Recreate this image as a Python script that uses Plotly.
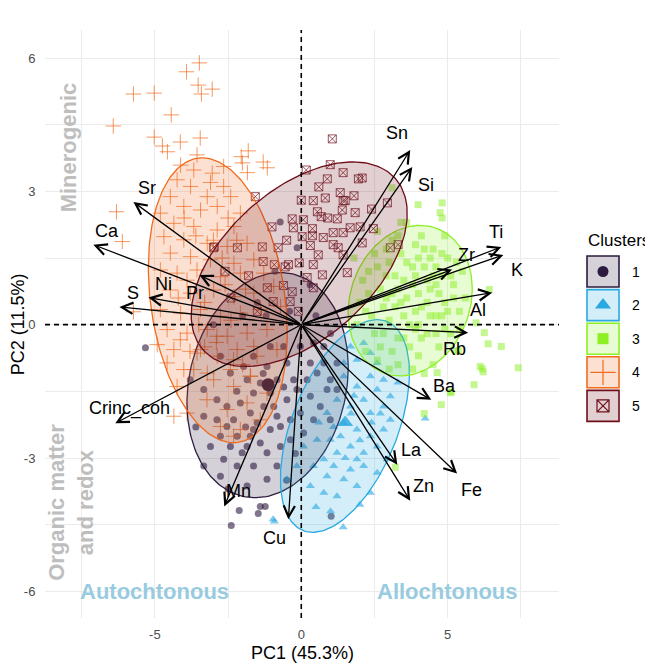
import numpy as np
import plotly.graph_objects as go

##################
### data (PC scores)
c1_points = [(-2.88, -2.14), (-2.54, -2.29), (-2.19, -2.51), (-1.85, -2.74), (-1.51, -2.21), (-1.06, -2.36),
             (-0.71, -2.29), (-0.94, -1.84), (-0.49, -1.69), (-0.15, -1.46), (0.20, -1.24), (0.54, -1.09),
             (0.77, -0.86), (0.88, -1.46), (0.99, -1.24), (1.22, -0.86), (0.31, -1.61), (-0.37, -2.14),
             (-0.03, -1.99), (-0.71, -2.74), (-1.17, -2.88), (-1.63, -3.18), (-2.19, -3.18), (-2.65, -3.03),
             (-3.10, -2.74), (-3.33, -3.18), (-2.76, -3.41), (-2.02, -2.88), (-1.17, -3.48), (-1.85, -3.63),
             (-0.83, -3.18), (-1.40, -2.66), (-2.42, -2.74), (-2.88, -1.69), (-3.33, -1.46), (-3.79, -1.24),
             (-2.08, -1.76), (-1.63, -1.54), (-1.28, -1.84), (-1.74, -1.99), (-2.31, -2.14), (-0.83, -1.24),
             (-1.17, -0.94), (-0.49, -0.86), (-0.03, -0.49), (0.42, -0.41), (0.77, -0.49), (-0.60, -0.49),
             (-1.06, -0.49), (-1.63, -0.71), (0.08, -2.44), (0.42, -2.14), (0.65, -1.84), (0.99, -2.14),
             (-0.37, -2.59), (-1.63, -2.36), (-0.83, -2.06), (-2.54, -1.84), (-1.85, -1.24), (-1.40, -1.31),
             (1.22, -1.46), (0.31, -0.86), (-1.97, -0.94), (-2.42, -1.09), (-2.76, -0.71), (-1.06, -1.54),
             (-0.26, -1.24), (-1.74, -2.51), (-2.76, -2.51), (-3.33, -2.06),
             (-5.32, -0.52), (-2.12, -4.18), (-2.39, -4.52), (-1.47, -4.25), (-1.40, -4.09), (-1.23, -4.09),
             (1.02, -4.31), (-0.72, 2.31), (-0.14, 1.73), (-0.90, 1.20), (0.30, 0.90), (-2.00, 0.20),
             (-3.00, 0.00), (-1.50, 0.50), (-1.30, -1.10), (-0.60, -1.40), (-2.20, -1.50), (-1.90, -2.30),
             (-0.20, -2.90), (-0.50, -3.50), (-2.50, -3.70), (-3.60, -2.30), (-0.40, 0.30), (0.50, 0.20),
             (1.00, -0.20), (-1.20, 0.20)]

c2_points = [(1.45, -1.16), (1.90, -1.39), (2.36, -1.16), (2.59, -1.46), (2.13, -1.69), (1.68, -1.84),
             (2.36, -1.99), (2.81, -1.84), (1.45, -2.21), (1.90, -2.36), (2.36, -2.51), (2.81, -2.36),
             (2.59, -2.74), (2.13, -2.88), (1.68, -2.74), (1.22, -2.88), (0.77, -3.03), (0.42, -3.18),
             (0.88, -3.41), (1.45, -3.48), (1.90, -3.63), (2.36, -3.78), (2.59, -3.33), (2.93, -3.03),
             (0.99, -2.59), (0.54, -2.59), (0.08, -2.74), (-0.15, -3.18), (-0.49, -3.48), (0.31, -3.63),
             (0.77, -3.78), (1.22, -3.86), (1.68, -3.26), (2.13, -3.18), (2.81, -1.24), (3.04, -1.61),
             (3.04, -2.14), (1.45, -0.86), (1.90, -0.79), (2.36, -0.64), (2.13, -0.41), (1.68, -0.49),
             (2.59, -0.86), (1.22, -1.69), (0.88, -1.99), (1.34, -2.51), (1.90, -3.03), (1.11, -3.18),
             (-0.92, -4.43), (1.43, -4.56), (4.23, -2.11), (1.00, -4.20), (0.50, -4.10), (2.00, -4.05),
             (-0.96, -4.38), (1.70, -2.00), (2.00, -2.60), (1.50, -3.00), (2.40, -2.20), (1.10, -2.30),
             (2.70, -2.00), (3.30, -1.30), (0.60, -2.20), (1.80, -1.60)]

c3_points = [(2.0, 0.5), (2.3, 1.2), (2.5, -0.2), (2.7, 0.8), (2.9, 1.7), (3.0, 0.1), (3.1, -0.6), (3.2, 1.1),
             (3.3, 2.0), (3.4, 0.5), (3.5, -0.3), (3.6, 1.4), (3.7, 0.0), (3.8, 0.9), (3.9, 1.8), (4.0, -0.7),
             (4.1, 0.4), (4.2, 1.3), (4.3, -0.2), (4.4, 0.8), (4.5, 1.7), (4.6, 0.2), (4.7, -0.5), (4.8, 1.1),
             (4.9, 0.5), (5.0, 1.5), (5.1, -0.2), (5.2, 0.9), (5.4, 0.3), (5.5, 1.2), (1.8, 1.5), (2.2, -0.6),
             (2.6, 2.1), (3.0, -1.0), (3.3, -0.9), (3.6, 2.3), (4.1, 2.0), (4.5, -0.9), (5.3, -0.6), (5.6, 0.6),
             (2.4, 0.2), (3.9, 0.3), (4.3, 1.0), (3.5, 1.0), (2.8, -0.2), (4.6, 1.3), (3.2, 0.4), (4.0, 1.5),
             (2.1, 1.0), (2.5, 1.6), (2.8, 0.4), (3.0, 1.4), (3.3, 0.8), (3.4, 1.6), (3.6, 0.6), (3.7, -0.5),
             (3.8, 1.3), (4.0, 0.7), (4.1, -0.3), (4.2, 1.7), (4.4, 0.2), (4.5, 1.1), (4.7, 0.7), (4.8, 1.6),
             (4.9, -0.1), (5.1, 1.1), (5.3, 1.4), (5.4, -0.1), (2.3, 0.7), (2.7, -0.5), (3.1, 0.7), (3.9, -0.1),
             (4.3, 0.5), (4.6, -0.2), (5.0, 0.3), (3.4, 2.3), (2.9, 1.1), (4.9, 2.0), (1.9, 0.0), (2.6, -0.8),
             (3.8, -1.0), (4.2, -1.1), (2.2, 0.3), (2.6, 1.3), (3.1, 1.9), (3.5, 0.2), (3.9, 1.1), (4.4, 1.5),
             (4.8, 0.2), (5.2, 0.6), (3.3, -0.3), (4.0, 0.0), (2.9, 0.6), (4.6, 0.9),
             (3.10, 3.08), (3.99, 2.70), (4.81, 2.74), (4.74, 2.52), (4.81, 2.40), (6.42, 0.79), (6.25, -0.18),
             (6.38, -0.43), (6.83, -0.49), (5.36, -0.58), (6.18, -0.99), (7.41, -0.97), (5.90, -1.35),
             (4.64, -1.08), (4.20, -2.00), (5.09, -1.53), (6.11, -0.94), (5.12, -1.51), (4.78, -1.80),
             (3.21, -3.21), (5.97, 0.04), (6.21, -1.06)]

c4_points = [(-5.22, 7.19), (-4.85, 6.99), (-5.67, 6.79), (-5.12, 6.76), (-3.48, 5.89), (-3.92, 5.69),
             (-3.52, 5.39), (-3.04, 5.30), (-3.41, 5.19), (-5.73, 5.19), (-5.02, 5.21), (-4.44, 4.72),
             (-6.42, 4.47), (-5.02, 4.22), (-4.13, 4.11), (-3.45, 4.20), (-4.74, 4.02), (-4.57, 3.89),
             (-1.81, 3.91), (-2.05, 3.78), (-1.30, 3.66), (-2.01, 3.64), (-1.16, 3.53), (-1.84, 3.42),
             (-6.31, 2.54), (-6.11, 1.87), (-5.73, 0.29),
             (-3.56, 3.82), (-4.12, 3.59), (-3.67, 3.48), (-2.65, 3.56), (-3.04, 3.41), (-4.24, 3.26),
             (-3.78, 3.11), (-2.65, 3.11), (-4.47, 2.88), (-3.21, 2.88), (-2.41, 2.88), (-4.01, 2.66),
             (-3.44, 2.58), (-2.87, 2.66), (-4.81, 2.51), (-2.08, 2.51), (-4.35, 2.28), (-3.67, 2.21),
             (-2.87, 2.13), (-2.30, 2.21), (-4.69, 1.98), (-4.01, 1.91), (-3.21, 1.83), (-2.53, 1.76),
             (-1.85, 1.83), (-4.47, 1.61), (-3.78, 1.53), (-3.10, 1.46), (-2.30, 1.38), (-1.62, 1.46),
             (-4.81, 1.23), (-4.24, 1.16), (-3.56, 1.23), (-2.76, 1.08), (-2.08, 1.16), (-1.28, 1.16),
             (-4.47, 0.78), (-3.78, 0.71), (-2.99, 0.78), (-2.30, 0.63), (-1.62, 0.71), (-0.94, 0.86),
             (-4.81, 0.34), (-4.12, 0.26), (-3.44, 0.34), (-2.76, 0.19), (-2.08, 0.26), (-1.40, 0.34),
             (-0.71, 0.41), (-4.58, -0.11), (-3.90, -0.19), (-3.21, -0.11), (-2.53, -0.26), (-1.85, -0.19),
             (-1.17, -0.11), (-4.35, -0.56), (-3.56, -0.64), (-2.87, -0.71), (-2.19, -0.56), (-1.51, -0.71),
             (-0.83, -0.56), (-4.01, -1.01), (-3.21, -1.09), (-2.42, -1.01), (-1.73, -1.16),
             (-4.13, -0.34), (-3.44, -0.56), (-2.88, -0.26), (-2.31, -0.79), (-1.62, -0.49), (-3.67, -1.01),
             (-2.99, -1.24), (-2.31, -1.39), (-1.74, -1.16), (-3.22, -1.69), (-2.53, -1.91), (-1.85, -1.76),
             (-1.17, -1.54), (-2.76, -2.29), (-2.08, -2.36), (-1.40, -2.14), (-2.31, -2.51), (-3.90, -1.99),
             (-4.24, -1.39), (-4.35, -2.06), (-4.92, -0.45), (-4.58, -0.86),
             (-3.3, 0.5), (-2.6, 0.9), (-3.0, 1.9), (-2.5, 2.4), (-3.6, 2.0), (-3.9, 1.0), (-2.9, -0.4),
             (-3.5, 0.0), (-2.2, 1.9), (-2.7, 1.5), (-3.3, -0.5), (-2.0, -0.9), (-3.1, 3.2), (-4.0, 2.4),
             (-2.4, 0.1), (-1.9, 0.8), (-3.8, -0.6), (-4.2, 0.6)]

c5_points = [(1.06, 4.18), (0.99, 3.60), (0.17, 3.48), (1.43, 3.42), (1.95, 3.28), (1.33, 2.97), (0.41, 2.79),
             (0.82, 2.85), (1.43, 2.79), (1.40, 2.58), (0.55, 2.54), (-0.31, 2.38), (0.68, 2.43), (1.23, 2.38),
             (0.07, 2.36), (-1.57, 2.88), (1.67, 2.18), (2.01, 2.20), (2.46, 2.16), (0.38, 2.16), (1.09, 2.07),
             (-0.27, 2.18), (0.38, 2.00), (-1.33, 1.75), (-0.79, 1.73), (0.31, 1.78), (1.26, 1.73), (-2.97, 1.75),
             (-1.30, 1.42), (-0.92, 1.35), (-0.44, 1.35), (-0.07, 1.39), (0.72, 1.12), (1.57, 1.17), (0.20, 1.06),
             (-0.61, 0.88), (-1.16, 0.83), (-0.31, 0.74), (0.41, 0.83), (-0.96, 0.52), (-0.38, 0.52), (2.94, 2.74),
             (0.89, 3.28), (2.08, 3.30), (1.50, 2.79), (1.84, 2.52), (0.75, 1.96), (1.43, 2.07), (0.03, 1.98),
             (1.09, 1.80), (2.08, 1.84), (3.31, 1.80), (0.58, 1.57), (1.43, 1.57), (3.04, 1.73), (0.41, 1.35),
             (-0.55, 1.30), (-3.00, 1.73), (-2.18, 1.73),
             (-1.8, 1.1), (-2.4, 0.6), (-1.0, 2.2), (0.0, 2.8), (0.9, 2.4), (-0.5, 1.9), (1.8, 2.9), (2.4, 2.6),
             (-1.5, 0.3), (-2.6, 1.2), (0.6, 3.1), (-0.1, 0.3)]

# cluster centres shown as big symbols
c1_centre = (-1.13, -1.35)
c2_centre = (1.50, -2.20)

# ellipse parameters: centre x, centre y, semi axis a, semi axis b, angle (deg)
ell_cx = [-1.15, 1.49, 3.72, -2.85, -0.07]
ell_cy = [-1.36, -2.28, 0.54, 0.55, 1.36]
ell_a = [2.87, 2.82, 2.16, 3.29, 3.92]
ell_b = [2.40, 1.62, 1.64, 2.25, 1.88]
ell_ang = [31.0, 49.7, 17.5, -71.8, 22.7]

# variable loadings (arrow tips) and label positions
var_names = ["Sn", "Si", "Ti", "K", "Zr", "Al", "Rb", "Ba", "La", "Fe", "Zn", "Cu", "Mn",
             "Crinc_coh", "Sr", "Ca", "Ni", "S", "Pr"]
var_pc1 = [3.72, 3.79, 6.83, 6.90, 5.15, 6.52, 5.70, 4.44, 3.28, 5.32, 3.72, -0.44, -2.63,
           -6.35, -5.73, -7.10, -5.22, -6.21, -3.48]
var_pc2 = [3.93, 3.55, 1.75, 1.57, 1.24, 0.72, -0.18, -1.69, -3.15, -3.35, -3.96, -4.38, -4.09,
           -2.22, 2.76, 1.80, 0.61, 0.40, 1.12]
lab_pc1 = [3.28, 4.27, 6.66, 7.37, 5.63, 6.04, 5.22, 4.88, 3.75, 5.80, 4.16, -0.92, -2.15,
           -5.87, -5.26, -6.62, -4.71, -5.73, -3.62]
lab_pc2 = [4.31, 3.15, 2.09, 1.24, 1.57, 0.34, -0.54, -1.37, -2.81, -3.73, -3.62, -4.79, -3.75,
           -1.89, 3.08, 2.11, 0.92, 0.72, 0.72]

x_ticks = [-5, 0, 5]
x_ticklabels = ["-5", "0", "5"]
y_ticks = [-6, -3, 0, 3, 6]
y_ticklabels = ["-6", "-3", "0", "3", "6"]

clusters = ["1", "2", "3", "4", "5"]
colors = ["#2D1B3F", "#29A9E1", "#8CF024", "#F26B1D", "#6E0E1B"]


def rgba(hexcol, a):
    h = hexcol.lstrip('#')
    return 'rgba(%d,%d,%d,%s)' % (int(h[0:2], 16), int(h[2:4], 16), int(h[4:6], 16), a)


FONT = "Liberation Sans, Arial, sans-serif"
fig = go.Figure()

# points
all_points = [c1_points, c2_points, c3_points, c4_points, c5_points]
for i, pts in enumerate(all_points):
    xs = [p[0] for p in pts]
    ys = [p[1] for p in pts]
    col = colors[i]
    if i == 0:
        mk = dict(symbol='circle', size=7, color=rgba(col, 0.6))
    elif i == 1:
        mk = dict(symbol='triangle-up', size=8, color=rgba(col, 0.6))
    elif i == 2:
        mk = dict(symbol='square', size=7, color=rgba(col, 0.5))
    elif i == 3:
        mk = dict(symbol='cross-thin-open', size=11, color=rgba(col, 0.7),
                  line=dict(color=rgba(col, 0.7), width=1))
    else:
        mk = dict(symbol='square-x-open', size=8, color=rgba(col, 0.7),
                  line=dict(color=rgba(col, 0.7), width=1))
    fig.add_trace(go.Scatter(x=xs, y=ys, mode='markers', marker=mk, cliponaxis=False,
                             showlegend=False, hoverinfo='skip'))

# centres
fig.add_trace(go.Scatter(x=[c1_centre[0]], y=[c1_centre[1]], mode='markers',
                         marker=dict(symbol='circle', size=13, color=colors[0]),
                         showlegend=False, hoverinfo='skip'))
fig.add_trace(go.Scatter(x=[c2_centre[0]], y=[c2_centre[1]], mode='markers',
                         marker=dict(symbol='triangle-up', size=14, color=rgba(colors[1], 0.8)),
                         showlegend=False, hoverinfo='skip'))

# ellipses
t = np.linspace(0, 2 * np.pi, 200)
for i in range(5):
    th = np.deg2rad(ell_ang[i])
    ex = ell_cx[i] + ell_a[i] * np.cos(t) * np.cos(th) - ell_b[i] * np.sin(t) * np.sin(th)
    ey = ell_cy[i] + ell_a[i] * np.cos(t) * np.sin(th) + ell_b[i] * np.sin(t) * np.cos(th)
    fig.add_trace(go.Scatter(x=ex, y=ey, mode='lines', fill='toself',
                             fillcolor=rgba(colors[i], 0.2),
                             line=dict(color=colors[i], width=1.3),
                             showlegend=False, hoverinfo='skip'))

# dashed axes through origin
fig.add_shape(type='line', xref='x', yref='y domain', x0=0, x1=0, y0=0, y1=1,
              line=dict(color='black', width=1.6, dash='5px,4px'))
fig.add_shape(type='line', xref='x domain', yref='y', x0=0, x1=1, y0=0, y1=0,
              line=dict(color='black', width=1.6, dash='5px,4px'))

# loading arrows + labels
for i, name in enumerate(var_names):
    fig.add_annotation(x=var_pc1[i], y=var_pc2[i], ax=0, ay=0, xref='x', yref='y',
                       axref='x', ayref='y', text='', showarrow=True, arrowhead=5,
                       arrowsize=1.7, arrowwidth=1.3, arrowcolor='black', standoff=0)
    fig.add_annotation(x=lab_pc1[i], y=lab_pc2[i], xref='x', yref='y', text=name,
                       showarrow=False, font=dict(family=FONT, size=18, color='black'))

# quadrant notes
grey = '#BEBEBE'
blue = '#98CBE0'
fig.add_annotation(x=-7.95, y=4.0, text='<b>Minerogenic</b>', textangle=-90, showarrow=False,
                   font=dict(family=FONT, size=22, color=grey))
fig.add_annotation(x=-7.85, y=-4.0, text='<b>Organic matter<br>and redox</b>', textangle=-90,
                   showarrow=False, font=dict(family=FONT, size=22, color=grey))
fig.add_annotation(x=-5.0, y=-6.0, text='<b>Autochtonous</b>', showarrow=False,
                   font=dict(family=FONT, size=22, color=blue))
fig.add_annotation(x=5.0, y=-6.0, text='<b>Allochtonous</b>', showarrow=False,
                   font=dict(family=FONT, size=22, color=blue))

# axis titles
fig.add_annotation(x=0.4227, y=-0.0595, xref='paper', yref='paper', text='PC1 (45.3%)',
                   showarrow=False, yanchor='middle', font=dict(family=FONT, size=18, color='black'))
fig.add_annotation(x=-0.044, y=0.5, xref='paper', yref='paper', text='PC2 (11.5%)',
                   textangle=-90, showarrow=False, xanchor='center',
                   font=dict(family=FONT, size=18, color='black'))

# hand-made legend (own little axis, in window pixel units)
fig.add_annotation(x=586, y=240, xref='x2', yref='y2', text='Clusters', showarrow=False,
                   xanchor='left', font=dict(family=FONT, size=17, color='black'))
leg_symbols = ['circle', 'triangle-up', 'square', 'cross-thin-open', 'square-x-open']
leg_sizes = [11, 14, 11, 18, 12]
for i, cl in enumerate(clusters):
    y0 = 256 + 33.6 * i
    fig.add_shape(type='rect', xref='x2', yref='y2', x0=587, x1=619, y0=y0, y1=y0 + 31,
                  fillcolor=rgba(colors[i], 0.2), line=dict(color=colors[i], width=1.6))
    if i < 3:
        mk = dict(symbol=leg_symbols[i], size=leg_sizes[i], color=colors[i])
    else:
        mk = dict(symbol=leg_symbols[i], size=leg_sizes[i], color=colors[i],
                  line=dict(color=colors[i], width=1.2))
    fig.add_trace(go.Scatter(x=[603], y=[y0 + 15.5], xaxis='x2', yaxis='y2', mode='markers',
                             marker=mk, cliponaxis=False, showlegend=False, hoverinfo='skip'))
    fig.add_annotation(x=630, y=y0 + 15.5, xref='x2', yref='y2', text=cl, showarrow=False,
                       xanchor='left', font=dict(family=FONT, size=14, color='black'))

# page body has an 8px margin -> figure is 8px smaller and margins 8px tighter
gridcol = '#EBEBEB'
fig.update_layout(
    width=645, height=656,
    margin=dict(l=37, r=0, t=22, b=46),
    plot_bgcolor='white', paper_bgcolor='white',
    font=dict(family=FONT),
    showlegend=False,
    xaxis=dict(domain=[0, 0.8454], range=[-8.75, 8.8], tickvals=x_ticks, ticktext=x_ticklabels,
               zeroline=False, showgrid=True, gridcolor=gridcol, gridwidth=1,
               minor=dict(tick0=0, dtick=2.5, showgrid=True, gridcolor=gridcol, gridwidth=1),
               ticks='outside', ticklen=4, tickcolor='rgba(0,0,0,0)',
               tickfont=dict(size=13, color='#4D4D4D'), automargin=False),
    yaxis=dict(range=[-6.6, 6.63], tickvals=y_ticks, ticktext=y_ticklabels,
               zeroline=False, showgrid=True, gridcolor=gridcol, gridwidth=1,
               minor=dict(tick0=0, dtick=1.5, showgrid=True, gridcolor=gridcol, gridwidth=1),
               ticks='outside', ticklen=6, tickcolor='rgba(0,0,0,0)',
               tickfont=dict(size=13, color='#4D4D4D'), automargin=False),
    xaxis2=dict(domain=[0.8454, 1], range=[559, 653], anchor='y2', visible=False, fixedrange=True),
    yaxis2=dict(domain=[0, 1], range=[618, 30], anchor='x2', visible=False, fixedrange=True),
)

fig.write_html("out.html")
